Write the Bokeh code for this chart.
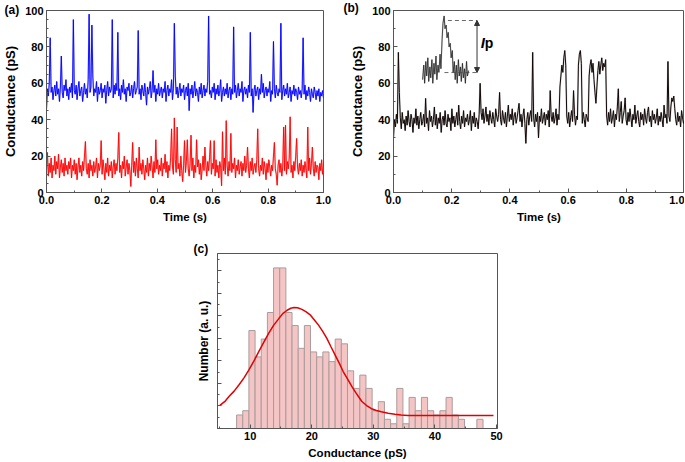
import numpy as np
from bokeh.plotting import figure
from bokeh.models import (Range1d, SingleIntervalTicker, Label, Arrow, NormalHead,
                          Spacer, CustomJSTickFormatter, PrintfTickFormatter)
from bokeh.layouts import row, column
from bokeh.embed import file_html
from bokeh.resources import INLINE

# ---------------- data ----------------
# panel (a): conductance traces (pS), uniformly sampled over 0..1 s
blue_trace = [
    46, 57, 53, 60, 85, 55, 58, 51, 56, 59, 53, 61, 54, 57, 50, 58, 75, 55, 52, 59, 56, 62, 53, 57, 51,
    58, 55, 60, 52, 95, 56, 54, 59, 51, 57, 61, 53, 56, 58, 50, 55, 60, 54, 57, 52, 62, 98, 55, 58, 92,
    64, 53, 57, 55, 61, 50, 58, 54, 56, 60, 52, 57, 55, 59, 49, 56, 61, 53, 58, 55, 57, 95, 52, 59, 54,
    60, 56, 88, 53, 57, 51, 59, 55, 62, 54, 57, 50, 58, 56, 60, 53, 55, 59, 52, 57, 61, 54, 56, 58, 89,
    54, 57, 51, 59, 56, 53, 60, 55, 48, 58, 54, 57, 61, 52, 56, 67, 55, 59, 50, 57, 54, 60, 53, 56, 58,
    52, 57, 55, 61, 50, 56, 59, 53, 57, 55, 62, 51, 57, 93, 64, 54, 58, 52, 56, 60, 53, 57, 55, 59, 51,
    56, 58, 53, 60, 45, 57, 54, 59, 52, 56, 61, 53, 57, 55, 50, 58, 54, 60, 52, 56, 59, 53, 57, 55, 61,
    97, 54, 56, 52, 58, 55, 60, 51, 57, 54, 59, 53, 56, 62, 50, 55, 58, 53, 57, 54, 60, 52, 56, 58, 51,
    57, 54, 91, 55, 59, 52, 56, 60, 53, 57, 55, 61, 50, 56, 58, 54, 57, 52, 59, 55, 88, 53, 57, 44, 56,
    59, 53, 56, 58, 51, 57, 54, 65, 55, 60, 52, 56, 58, 53, 57, 55, 61, 50, 56, 54, 83, 57, 52, 59, 55,
    53, 57, 55, 93, 51, 56, 59, 53, 57, 54, 60, 52, 55, 58, 50, 56, 54, 59, 53, 57, 55, 51, 58, 54, 56,
    52, 57, 85, 54, 59, 51, 56, 53, 58, 55, 50, 57, 54, 52, 58, 55, 51, 56, 53, 57, 50, 55, 53, 56, 52,
]
red_trace = [
    13, 22, 9, 16, 11, 19, 8, 15, 12, 20, 10, 17, 13, 21, 8, 14, 18, 11, 16, 9, 19, 12, 15, 10, 17,
    13, 19, 8, 15, 12, 18, 10, 16, 7, 14, 19, 11, 15, 9, 17, 12, 20, 28, 13, 10, 16, 8, 18, 12, 15,
    9, 17, 11, 14, 19, 8, 16, 12, 15, 28.5, 10, 18, 13, 7, 16, 11, 19, 9, 15, 12, 17, 8, 14, 18, 10,
    16, 12, 19, 33, 11, 15, 8, 17, 13, 20, 9, 14, 18, 10, 16, 12, 3.3, 15, 27.5, 11, 17, 9, 19, 13, 8,
    25, 12, 16, 10, 18, 13, 7, 15, 11, 19, 9, 16, 12, 20, 14, 8, 17, 11, 29, 13, 18, 10, 15, 12, 19,
    9, 16, 13, 21, 11, 17, 8, 15, 12, 19, 35, 14, 10, 41, 18, 11, 36, 13, 16, 9, 20, 12, 6, 15, 28.5,
    11, 17, 29, 13, 9, 16, 31.5, 12, 19, 8, 15, 11, 29, 14, 18, 10, 16, 7, 13, 20, 12, 25, 15, 9, 17,
    12, 19, 28.5, 10, 16, 13, 28.5, 9, 18, 11, 15, 8, 17, 14, 3.7, 33.4, 12, 19, 10, 39.5, 15, 9, 17, 12, 32.5,
    11, 16, 13, 19, 8, 15, 12, 18, 10, 14, 17, 9, 16, 12, 20, 11, 15, 25, 13, 8, 17, 12, 19, 10, 14,
    16, 11, 18, 35, 13, 9, 15, 12, 19, 10, 17, 13, 7, 16, 11, 18, 14, 9, 15, 12, 20, 27.5, 13, 10, 4,
    15, 18, 11, 16, 9, 14, 36, 12, 37, 10, 17, 13, 19, 41.6, 11, 15, 8, 17, 12, 20, 29.7, 14, 10, 16, 12,
    18, 9, 15, 11, 17, 13, 8, 36, 12, 19, 10, 16, 25, 13, 9, 17, 11, 15, 14, 7, 16, 12, 18, 10, 14,
]
# panel (b): single trace with blockade events
black_trace = [
    30, 40, 36, 43, 38, 77, 55, 41, 35, 44, 38, 40, 34, 42, 37, 45, 39, 36, 43, 40, 33, 41, 38, 46, 37,
    42, 35, 40, 44, 37, 39, 43, 36, 51.7, 38, 41, 34, 45, 39, 42, 36, 40, 47, 37, 43, 35, 41, 38, 44, 33,
    40, 42, 37, 45, 38, 36, 43, 39, 41, 34, 46, 38, 42, 36, 40, 44, 37, 48, 39, 35, 42, 38, 45, 36, 41,
    39, 43, 37, 40, 45, 34, 42, 38, 44, 36, 41, 39, 35, 43, 60, 44, 40, 46, 38, 42, 47, 39, 43, 37, 45,
    41, 38, 44, 40, 36, 46, 42, 39, 43, 55, 40, 37, 45, 41, 38, 44, 36, 42, 48, 39, 43, 40, 46, 37, 42,
    44, 38, 41, 45, 49, 39, 43, 36, 42, 46, 38, 27, 40, 44, 37, 42, 45, 39, 77, 41, 36, 43, 39, 44, 30,
    42, 39, 46, 38, 41, 44, 37, 43, 40, 45, 36, 56, 42, 39, 44, 38, 41, 46, 37, 43, 40, 58, 64, 70, 66,
    74, 78, 70, 42, 38, 44, 36, 41, 45, 39, 56, 43, 37, 42, 40, 70, 76, 78, 71, 38, 44, 40, 36, 43, 41,
    39, 64, 70, 73, 66, 71, 62, 55, 49, 58, 67, 72, 65, 70, 74, 67, 71, 69, 73, 42, 37, 44, 39, 46, 38,
    41, 45, 36, 43, 40, 47, 57, 39, 44, 50, 38, 42, 45, 52, 40, 37, 44, 39, 46, 41, 36, 43, 40, 48, 38,
    42, 45, 39, 36, 44, 40, 43, 37, 46, 41, 38, 44, 47, 39, 42, 36, 45, 40, 43, 38, 41, 46, 37, 42, 39,
    44, 40, 36, 48, 41, 43, 38, 72, 42, 39, 47, 52, 50, 53, 46, 40, 37, 44, 39, 42, 36, 45, 41, 38, 40,
]
# inset in panel (b): zoomed single event
inset_time = [0.100, 0.104, 0.107, 0.111, 0.114, 0.118, 0.121, 0.125, 0.128, 0.132,
              0.135, 0.139, 0.142, 0.146, 0.149, 0.153, 0.156, 0.160, 0.163, 0.167,
              0.170, 0.174, 0.177, 0.181, 0.184, 0.188, 0.191, 0.195, 0.198, 0.202,
              0.205, 0.209, 0.212, 0.216, 0.219, 0.223, 0.226, 0.230, 0.233, 0.237,
              0.240, 0.244, 0.247, 0.251, 0.254, 0.258]
inset_trace = [62, 70, 60, 72, 64, 74, 61, 69, 63, 73, 60, 71, 65, 75, 62, 70, 66, 76, 68, 84,
               93, 97, 90, 92, 85, 88, 80, 82, 74, 78, 66, 72, 62, 70, 60, 73, 64, 69, 61, 71,
               63, 68, 60, 72, 64, 67]
ip_top_span = [0.187, 0.287]
ip_bottom_span = [0.175, 0.293]
ip_levels = [94.5, 65.9]
ip_arrow_time = 0.287

# panel (c): histogram + fitted curve
hist_centers = [8.3, 9.3, 10.3, 11.3, 12.3, 13.3, 14.3, 15.3, 16.3, 17.3,
                18.3, 19.3, 20.3, 21.3, 22.3, 23.3, 24.3, 25.3, 26.3, 27.3,
                28.3, 29.3, 30.3, 31.3, 32.3, 33.3, 34.3, 35.3, 36.3, 37.3,
                38.3, 39.3, 40.3, 41.3, 42.3, 43.3, 44.3, 45.3, 46.3, 47.3]
hist_counts = [6.0, 7.9, 43.5, 31.8, 39.7, 51.5, 71.3, 71.3, 51.5, 45.7,
               35.6, 45.7, 34.0, 31.8, 34.0, 29.7, 39.7, 37.6, 25.6, 17.8,
               23.7, 17.8, 7.9, 11.9, 4.1, 2.1, 17.8, 2.1, 13.8, 7.9,
               13.8, 7.9, 6.0, 7.9, 13.8, 6.0, 4.1, 0, 0, 4.1]
fit_x = [5.1, 6.0, 6.6, 7.4, 8.2, 9.0, 9.8, 10.6, 11.4, 12.2, 13.0, 13.8, 14.65, 15.3,
         16.0, 16.6, 17.1, 17.7, 18.4, 19.1, 19.8, 20.4, 21.1, 21.8, 22.45, 23.1, 23.8,
         24.5, 25.1, 25.8, 26.5, 27.2, 28.1, 28.9, 29.7, 30.5, 31.3, 32.4, 33.5, 34.5,
         35.6, 38.0, 42.0, 46.0, 49.5]
fit_y = [10.3, 12.3, 14.3, 16.6, 19.4, 22.5, 26.0, 29.9, 34.1, 38.2, 42.2, 45.8, 48.8, 51.0,
         52.5, 53.4, 53.7, 53.6, 52.9, 51.8, 50.3, 48.3, 45.9, 43.0, 40.0, 36.4, 32.6,
         28.8, 25.3, 22.0, 18.7, 15.7, 12.1, 10.2, 8.8, 8.0, 7.4, 6.8, 6.3, 6.0,
         5.8, 5.8, 5.8, 5.8, 5.8]

FONT = "Liberation Sans"
AX = "#555555"


def style(p, xlab, ylab, xlab_size="11.5px", ylab_size="13px"):
    p.outline_line_color = AX
    p.outline_line_width = 1
    p.xgrid.visible = False
    p.ygrid.visible = False
    p.background_fill_color = "white"
    p.border_fill_color = "white"
    for ax in (p.xaxis[0], p.yaxis[0]):
        ax.axis_line_color = AX
        ax.major_tick_line_color = AX
        ax.minor_tick_line_color = AX
        ax.major_tick_in = 4
        ax.major_tick_out = 0
        ax.minor_tick_in = 2
        ax.minor_tick_out = 0
        ax.major_label_text_font = FONT
        ax.major_label_text_font_style = "bold"
        ax.major_label_text_font_size = "11px"
        ax.major_label_text_color = "black"
        ax.axis_label_text_font = FONT
        ax.axis_label_text_font_style = "bold"
        ax.axis_label_text_color = "black"
        ax.major_label_standoff = 3
        ax.axis_label_standoff = 4
    p.xaxis.axis_label = xlab
    p.yaxis.axis_label = ylab
    p.xaxis.axis_label_text_font_size = xlab_size
    p.yaxis.axis_label_text_font_size = ylab_size


def panel_title(p, text, offset, standoff):
    p.title.text = text
    p.title.align = "left"
    p.title.offset = offset
    p.title.standoff = standoff
    p.title.text_font = FONT
    p.title.text_font_style = "bold"
    p.title.text_font_size = "12px"
    p.title.text_color = "black"


# ---------------- panel (a) ----------------
pa = figure(width=338, height=232, x_range=Range1d(0, 1), y_range=Range1d(0, 100),
            output_backend="svg", toolbar_location=None,
            min_border_left=43, min_border_right=15, min_border_top=10, min_border_bottom=40)
style(pa, "Time (s)", "Conductance (pS)")
pa.xaxis.ticker = SingleIntervalTicker(interval=0.2, num_minor_ticks=2)
pa.yaxis.ticker = SingleIntervalTicker(interval=20, num_minor_ticks=4)
pa.xaxis.formatter = PrintfTickFormatter(format="%.1f")
time_a = np.linspace(0, 1, len(blue_trace))
time_r = np.linspace(0, 1, len(red_trace))
pa.line(time_a, blue_trace, line_color="#8080ff", line_width=1.5, line_alpha=0.6)
pa.line(time_a, blue_trace, line_color="#0000ff", line_width=0.9)
pa.line(time_r, red_trace, line_color="#ff8080", line_width=1.5, line_alpha=0.6)
pa.line(time_r, red_trace, line_color="#ff0000", line_width=0.9)
panel_title(pa, "(a)", -42, -12)

# ---------------- panel (b) ----------------
pb = figure(width=346, height=232, x_range=Range1d(0, 1), y_range=Range1d(0, 100),
            output_backend="svg", toolbar_location=None,
            min_border_left=55, min_border_right=0, min_border_top=10, min_border_bottom=39)
style(pb, "Time (s)", "Conductance (pS)")
pb.xaxis.ticker = SingleIntervalTicker(interval=0.2, num_minor_ticks=2)
pb.yaxis.ticker = SingleIntervalTicker(interval=20, num_minor_ticks=2)
pb.xaxis.formatter = PrintfTickFormatter(format="%.1f")
time_b = np.linspace(0, 1, len(black_trace))
pb.line(time_b, black_trace, line_color="#aaaaaa", line_width=1.8, line_alpha=0.5)
pb.line(time_b, black_trace, line_color="#120808", line_width=1.0)
pb.line(inset_time, inset_trace, line_color="#aaaaaa", line_width=1.5, line_alpha=0.5)
pb.line(inset_time, inset_trace, line_color="#222222", line_width=0.8)
pb.line(ip_top_span, [ip_levels[0], ip_levels[0]], line_color="#444444", line_width=0.8,
        line_dash="4 3")
pb.line(ip_bottom_span, [ip_levels[1], ip_levels[1]], line_color="#444444", line_width=0.8,
        line_dash="4 3")
pb.add_layout(Arrow(x_start=ip_arrow_time, y_start=ip_levels[1], x_end=ip_arrow_time,
                    y_end=ip_levels[0], line_color="#333333", line_width=1,
                    start=NormalHead(size=5, fill_color="#333333", line_color="#333333"),
                    end=NormalHead(size=5, fill_color="#333333", line_color="#333333")))
pb.add_layout(Label(x=0.300, y=78, text="I", text_font=FONT, text_font_style="bold italic",
                    text_font_size="15px", text_color="black"))
pb.add_layout(Label(x=0.314, y=78, text="p", text_font=FONT, text_font_style="bold",
                    text_font_size="14px", text_color="black"))
panel_title(pb, "(b)", -50, -8)

# ---------------- panel (c) ----------------
pc = figure(width=332, height=229, x_range=Range1d(4.7, 50.15), y_range=Range1d(0, 77.7),
            output_backend="svg", toolbar_location=None,
            min_border_left=40, min_border_right=12, min_border_top=21, min_border_bottom=33)
style(pc, "Conductance (pS)", "Number (a. u.)", xlab_size="11.5px", ylab_size="12px")
pc.xaxis.ticker = SingleIntervalTicker(interval=10, num_minor_ticks=2)
pc.yaxis.ticker = SingleIntervalTicker(interval=10, num_minor_ticks=2)
pc.yaxis.formatter = CustomJSTickFormatter(code="return ''")
pc.yaxis.major_label_standoff = 0
pc.yaxis.axis_label_standoff = 7
pc.vbar(x=hist_centers, width=1, top=hist_counts, bottom=0,
        fill_color="#f5c5c5", line_color="#a89c9c", line_width=1)
pc.line(fit_x, fit_y, line_color="#e30000", line_width=1.5)
panel_title(pc, "(c)", -24, -5)

layout = column(row(pa, pb), row(Spacer(width=177, height=229), pc))

with open("out.html", "w") as f:
    f.write(file_html(layout, INLINE))
